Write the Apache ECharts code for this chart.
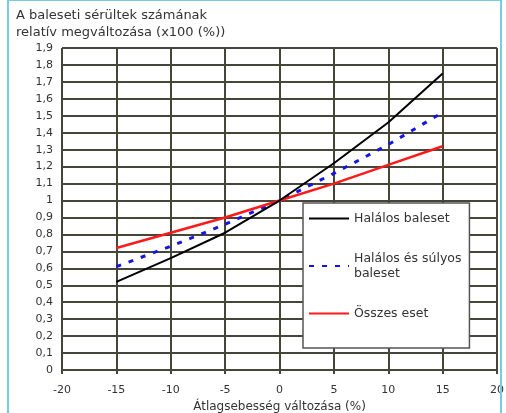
<!DOCTYPE html>
<html>
<head>
<meta charset="utf-8">
<script src="https://cdn.jsdelivr.net/npm/echarts@6/dist/echarts.min.js"></script>
<style>
html,body{margin:0;padding:0;background:#fff;}
#c{width:506px;height:413px;}
</style>
</head>
<body>
<div id="c"></div>
<script>
var speedChange = [-15, -10, -5, 0, 5, 10, 15];
var halalos = [0.52, 0.66, 0.81, 1.0, 1.22, 1.46, 1.75];
var halalosSulyos = [0.61, 0.73, 0.86, 1.0, 1.16, 1.33, 1.52];
var osszes = [0.72, 0.81, 0.90, 1.0, 1.10, 1.21, 1.32];
var seriesNames = ['Halálos baleset', 'Halálos és súlyos\nbaleset', 'Összes eset'];
var titleText = 'A baleseti sérültek számának\nrelatív megváltozása (x100 (%))';
var xTitle = 'Átlagsebesség változása (%)';

function pairs(ys){ return speedChange.map(function(x,i){ return [x, ys[i]]; }); }
var font = 'DejaVu Sans';
var gridColor = '#45453a';

var chart = echarts.init(document.getElementById('c'));
chart.setOption({
  animation: false,
  backgroundColor: '#fff',
  title: {
    text: titleText, left: 11, top: 2,
    textStyle: {fontFamily: font, fontSize: 13, fontWeight: 'normal', color: '#333', lineHeight: 17}
  },
  grid: {left: 62, right: 9, top: 48, bottom: 43, containLabel: false, outerBoundsMode: 'none'},
  xAxis: {
    type: 'value', min: -20, max: 20, interval: 5,
    name: xTitle, nameLocation: 'middle', nameGap: 30,
    nameTextStyle: {fontFamily: font, fontSize: 12, color: '#333'},
    axisLine: {show: true, onZero: false, lineStyle: {color: gridColor, width: 2}},
    axisTick: {show: true, length: 4, lineStyle: {color: gridColor, width: 2}},
    axisLabel: {fontFamily: font, fontSize: 11, color: '#333', margin: 15},
    splitLine: {show: true, lineStyle: {color: gridColor, width: 2}}
  },
  yAxis: {
    type: 'value', min: 0, max: 1.9, interval: 0.1,
    axisLine: {show: true, lineStyle: {color: gridColor, width: 2}},
    axisTick: {show: true, length: 3, lineStyle: {color: gridColor, width: 2}},
    axisLabel: {
      fontFamily: font, fontSize: 11, color: '#333', margin: 9,
      formatter: function(v){ return String(Math.round(v*10)/10).replace('.', ','); }
    },
    splitLine: {show: true, lineStyle: {color: gridColor, width: 2}}
  },
  legend: {
    orient: 'vertical', left: 303, top: 203,
    width: 160,
    padding: [8, 8, 27, 5],
    itemWidth: 40, itemHeight: 14, itemGap: 25,
    itemStyle: {opacity: 0},
    backgroundColor: '#fff', borderColor: '#555', borderWidth: 1.5,
    textStyle: {fontFamily: font, fontSize: 12.5, color: '#333', lineHeight: 15},
    data: seriesNames
  },
  series: [
    {name: seriesNames[0], type: 'line', data: pairs(halalos), symbol: 'none', z: 4,
     lineStyle: {color: '#000', width: 2}, itemStyle: {color: '#000'}},
    {name: seriesNames[1], type: 'line', data: pairs(halalosSulyos), symbol: 'none', z: 3,
     lineStyle: {color: '#1414e6', width: 3, type: [5, 8]}, itemStyle: {color: '#1414e6'}},
    {name: seriesNames[2], type: 'line', data: pairs(osszes), symbol: 'none', z: 3,
     lineStyle: {color: '#ff1a1a', width: 2.5}, itemStyle: {color: '#ff1a1a'}}
  ],
  graphic: [{
    type: 'rect', z: 100, silent: true,
    shape: {x: 8, y: 0, width: 493, height: 430},
    style: {fill: null, stroke: '#74cde0', lineWidth: 2}
  }]
});
</script>
</body>
</html>
